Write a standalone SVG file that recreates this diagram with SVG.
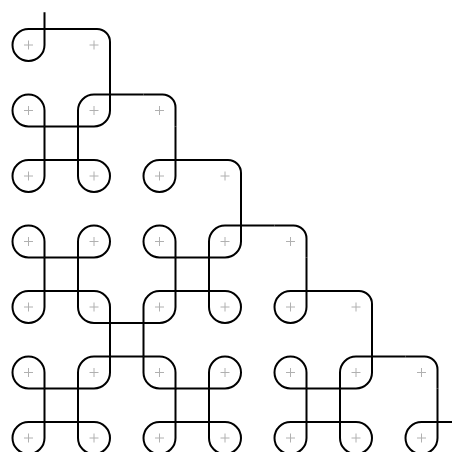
<svg xmlns="http://www.w3.org/2000/svg" width="452" height="452" viewBox="0 0 452 452">
<style>
.k{fill:none;stroke:#000;stroke-width:2}
.p{fill:none;stroke:#b0b0b0;stroke-width:1}
</style>
<defs>
<path id="t-tr" d="M16 -16V0A16 16 0 0 1 0 16A16 16 0 0 1 -16 0A16 16 0 0 1 0 -16H16"/>
<path id="t-br" d="M16 16H0A16 16 0 0 1 -16 0A16 16 0 0 1 0 -16A16 16 0 0 1 16 0V16"/>
<path id="t-trbl" d="M16 -16V0A16 16 0 0 1 0 16H-16V0A16 16 0 0 1 0 -16H16"/>
<path id="t-tl" d="M-16 -16H0A16 16 0 0 1 16 0A16 16 0 0 1 0 16A16 16 0 0 1 -16 0V-16"/>
<path id="t-bl" d="M-16 16V0A16 16 0 0 1 0 -16A16 16 0 0 1 16 0A16 16 0 0 1 0 16H-16"/>
<path id="t-tlbr" d="M-16 -16H0A16 16 0 0 1 16 0V16H0A16 16 0 0 1 -16 0V-16"/>
<path id="t-corner" d="M-16 -16H3A13 13 0 0 1 16 -3V16"/>
<path id="gap-x" d="M16 16V49.5M49.5 16V49.5M16 16H49.5M16 49.5H49.5"/>
<path id="gap-d" d="M16 16V49.5M16 49.5H49.5"/>
<path id="plus" d="M-4.5 0H4.5M0 -4.5V4.5"/>
</defs>

<g id="connectors" class="k">
<path d="M44.5 12.25V29M44.5 29H78"/>
<use href="#gap-d" x="94" y="45"/>
<use href="#gap-d" x="159.5" y="110.5"/>
<use href="#gap-d" x="225" y="176"/>
<use href="#gap-d" x="290.5" y="241.5"/>
<use href="#gap-d" x="356" y="307"/>
<use href="#gap-d" x="421.5" y="372.5"/>
<use href="#gap-x" x="28.5" y="110.5"/>
<use href="#gap-x" x="28.5" y="241.5"/>
<use href="#gap-x" x="159.5" y="241.5"/>
<use href="#gap-x" x="94" y="307"/>
<use href="#gap-x" x="28.5" y="372.5"/>
<use href="#gap-x" x="159.5" y="372.5"/>
<use href="#gap-x" x="290.5" y="372.5"/>
<path d="M437.5 422H452"/>
</g>

<g id="cell-0-0" transform="translate(28.5 45)"><use class="k" href="#t-tr"/><use class="p" href="#plus"/></g>
<g id="cell-1-0" transform="translate(94 45)"><use class="k" href="#t-corner"/><use class="p" href="#plus"/></g>

<g id="cell-0-1" transform="translate(28.5 110.5)"><use class="k" href="#t-br"/><use class="p" href="#plus"/></g>
<g id="cell-1-1" transform="translate(94 110.5)"><use class="k" href="#t-trbl"/><use class="p" href="#plus"/></g>
<g id="cell-2-1" transform="translate(159.5 110.5)"><use class="k" href="#t-corner"/><use class="p" href="#plus"/></g>

<g id="cell-0-2" transform="translate(28.5 176)"><use class="k" href="#t-tr"/><use class="p" href="#plus"/></g>
<g id="cell-1-2" transform="translate(94 176)"><use class="k" href="#t-tl"/><use class="p" href="#plus"/></g>
<g id="cell-2-2" transform="translate(159.5 176)"><use class="k" href="#t-tr"/><use class="p" href="#plus"/></g>
<g id="cell-3-2" transform="translate(225 176)"><use class="k" href="#t-corner"/><use class="p" href="#plus"/></g>

<g id="cell-0-3" transform="translate(28.5 241.5)"><use class="k" href="#t-br"/><use class="p" href="#plus"/></g>
<g id="cell-1-3" transform="translate(94 241.5)"><use class="k" href="#t-bl"/><use class="p" href="#plus"/></g>
<g id="cell-2-3" transform="translate(159.5 241.5)"><use class="k" href="#t-br"/><use class="p" href="#plus"/></g>
<g id="cell-3-3" transform="translate(225 241.5)"><use class="k" href="#t-trbl"/><use class="p" href="#plus"/></g>
<g id="cell-4-3" transform="translate(290.5 241.5)"><use class="k" href="#t-corner"/><use class="p" href="#plus"/></g>

<g id="cell-0-4" transform="translate(28.5 307)"><use class="k" href="#t-tr"/><use class="p" href="#plus"/></g>
<g id="cell-1-4" transform="translate(94 307)"><use class="k" href="#t-tlbr"/><use class="p" href="#plus"/></g>
<g id="cell-2-4" transform="translate(159.5 307)"><use class="k" href="#t-trbl"/><use class="p" href="#plus"/></g>
<g id="cell-3-4" transform="translate(225 307)"><use class="k" href="#t-tl"/><use class="p" href="#plus"/></g>
<g id="cell-4-4" transform="translate(290.5 307)"><use class="k" href="#t-tr"/><use class="p" href="#plus"/></g>
<g id="cell-5-4" transform="translate(356 307)"><use class="k" href="#t-corner"/><use class="p" href="#plus"/></g>

<g id="cell-0-5" transform="translate(28.5 372.5)"><use class="k" href="#t-br"/><use class="p" href="#plus"/></g>
<g id="cell-1-5" transform="translate(94 372.5)"><use class="k" href="#t-trbl"/><use class="p" href="#plus"/></g>
<g id="cell-2-5" transform="translate(159.5 372.5)"><use class="k" href="#t-tlbr"/><use class="p" href="#plus"/></g>
<g id="cell-3-5" transform="translate(225 372.5)"><use class="k" href="#t-bl"/><use class="p" href="#plus"/></g>
<g id="cell-4-5" transform="translate(290.5 372.5)"><use class="k" href="#t-br"/><use class="p" href="#plus"/></g>
<g id="cell-5-5" transform="translate(356 372.5)"><use class="k" href="#t-trbl"/><use class="p" href="#plus"/></g>
<g id="cell-6-5" transform="translate(421.5 372.5)"><use class="k" href="#t-corner"/><use class="p" href="#plus"/></g>

<g id="cell-0-6" transform="translate(28.5 438)"><use class="k" href="#t-tr"/><use class="p" href="#plus"/></g>
<g id="cell-1-6" transform="translate(94 438)"><use class="k" href="#t-tl"/><use class="p" href="#plus"/></g>
<g id="cell-2-6" transform="translate(159.5 438)"><use class="k" href="#t-tr"/><use class="p" href="#plus"/></g>
<g id="cell-3-6" transform="translate(225 438)"><use class="k" href="#t-tl"/><use class="p" href="#plus"/></g>
<g id="cell-4-6" transform="translate(290.5 438)"><use class="k" href="#t-tr"/><use class="p" href="#plus"/></g>
<g id="cell-5-6" transform="translate(356 438)"><use class="k" href="#t-tl"/><use class="p" href="#plus"/></g>
<g id="cell-6-6" transform="translate(421.5 438)"><use class="k" href="#t-tr"/><use class="p" href="#plus"/></g>
</svg>
